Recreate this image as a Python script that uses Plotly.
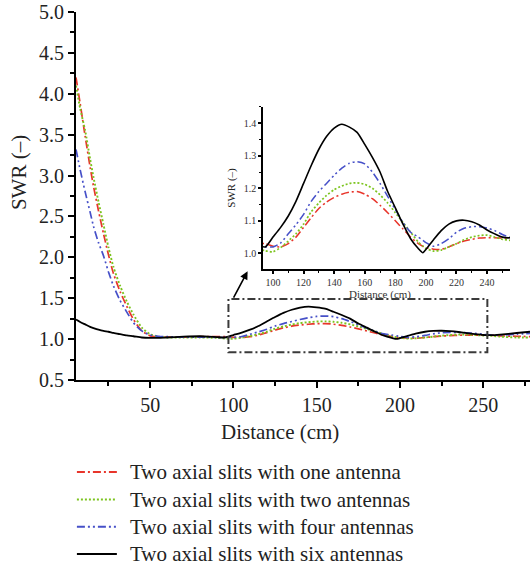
import plotly.graph_objects as go

# ---- data ----
distance = [5.5, 8, 11, 14, 16, 19, 22, 25, 28, 32, 36, 40, 45, 50, 55, 60, 70, 80, 90,
            95, 100, 105, 110, 115, 120, 125, 130, 135, 140, 145, 150, 155, 160, 165, 170,
            175, 180, 185, 190, 195, 198, 200, 205, 210, 215, 220, 225, 230, 235, 240, 245,
            250, 255, 260, 270, 278]

swr_one = [4.2, 3.88, 3.48, 3.1, 2.87, 2.57, 2.29, 2.03, 1.8, 1.58, 1.4, 1.24, 1.1, 1.04,
           1.025, 1.025, 1.025, 1.03, 1.03,
           1.03, 1.022, 1.02, 1.03, 1.05, 1.08, 1.11, 1.138, 1.158, 1.172, 1.182, 1.188,
           1.19, 1.182, 1.168, 1.148, 1.125, 1.1, 1.075, 1.05, 1.03, 1.022, 1.018, 1.013,
           1.012, 1.02, 1.03, 1.038, 1.043, 1.047, 1.048, 1.048, 1.047, 1.047, 1.04, 1.035, 1.03]

swr_two = [4.1, 3.82, 3.55, 3.2, 2.98, 2.68, 2.4, 2.12, 1.88, 1.65, 1.46, 1.3, 1.14, 1.06,
           1.03, 1.02, 1.02, 1.02, 1.015,
           1.008, 1.005, 1.018, 1.038, 1.06, 1.09, 1.128, 1.155, 1.178, 1.196, 1.207, 1.215,
           1.217, 1.212, 1.2, 1.18, 1.155, 1.125, 1.095, 1.065, 1.035, 1.022, 1.015, 1.007,
           1.01, 1.02, 1.03, 1.042, 1.05, 1.055, 1.056, 1.05, 1.043, 1.04, 1.03, 1.02, 1.02]

swr_four = [3.32, 3.07, 2.8, 2.55, 2.38, 2.18, 2.02, 1.82, 1.65, 1.47, 1.33, 1.2, 1.1, 1.05,
            1.035, 1.03, 1.025, 1.025, 1.02,
            1.02, 1.02, 1.032, 1.06, 1.088, 1.12, 1.16, 1.19, 1.215, 1.24, 1.262, 1.277,
            1.282, 1.275, 1.25, 1.215, 1.175, 1.135, 1.095, 1.065, 1.05, 1.04, 1.033, 1.022,
            1.03, 1.045, 1.065, 1.077, 1.082, 1.082, 1.078, 1.07, 1.058, 1.05, 1.05, 1.06, 1.07]

swr_six = [1.24, 1.21, 1.18, 1.15, 1.135, 1.115, 1.10, 1.09, 1.075, 1.06, 1.045, 1.035, 1.02,
           1.015, 1.015, 1.02, 1.03, 1.035, 1.025,
           1.02, 1.05, 1.08, 1.115, 1.16, 1.215, 1.27, 1.32, 1.359, 1.385, 1.397, 1.388,
           1.372, 1.335, 1.295, 1.25, 1.19, 1.14, 1.09, 1.045, 1.015, 1.002, 1.012, 1.042,
           1.07, 1.09, 1.1, 1.102, 1.097, 1.087, 1.072, 1.06, 1.05, 1.048, 1.055, 1.075, 1.09]

series_names = ["Two axial slits with one antenna", "Two axial slits with two antennas",
                "Two axial slits with four antennas", "Two axial slits with six antennas"]
series_values = [swr_one, swr_two, swr_four, swr_six]
colors = ["#e8352b", "#7cc41e", "#4650c8", "#000000"]
dashes = ["8px,3px,2px,3px", "2px,2px", "8px,3px,2px,3px,2px,3px", "solid"]
widths = [1.7, 1.9, 1.7, 1.8]

FONT = "Liberation Serif, Times New Roman, serif"

fig = go.Figure()
for i, (name, vals) in enumerate(zip(series_names, series_values)):
    fig.add_trace(go.Scatter(x=distance, y=vals, name=name, mode="lines", showlegend=False,
                             line=dict(color=colors[i], dash=dashes[i], width=widths[i],
                                       shape="spline", smoothing=0.6),
                             xaxis="x", yaxis="y"))
for i, (name, vals) in enumerate(zip(series_names, series_values)):
    fig.add_trace(go.Scatter(x=distance, y=vals, name=name, mode="lines", showlegend=False,
                             line=dict(color=colors[i], dash=dashes[i], width=widths[i] * 0.9,
                                       shape="spline", smoothing=0.6),
                             xaxis="x2", yaxis="y2"))

# ---- zoom box, arrow, titles and manual legend ----
shapes = [dict(type="rect", xref="x", yref="y", x0=97, x1=252.4, y0=0.84, y1=1.49,
               line=dict(color="#3a3a3a", width=2, dash="8px,3px,2px,3px"))]
annotations = [
    dict(xref="x", yref="y", axref="x", ayref="y", x=108.5, y=1.83,
         ax=99.6, ay=1.49, text="", showarrow=True, arrowhead=2,
         arrowsize=1, arrowwidth=1.6, arrowcolor="black"),
    dict(xref="paper", yref="paper", x=0.449, y=-0.141, xanchor="center", yanchor="middle",
         text="Distance (cm)", showarrow=False, font=dict(family=FONT, size=21, color="#222")),
    dict(xref="paper", yref="paper", x=-0.1256, y=0.565, xanchor="center", yanchor="middle",
         text="SWR (–)", textangle=-90, showarrow=False,
         font=dict(family=FONT, size=21, color="#222")),
    dict(xref="paper", yref="paper", x=0.6696, y=0.2315, xanchor="center", yanchor="middle",
         text="Distance (cm)", showarrow=False, font=dict(family=FONT, size=11, color="#333")),
]
legend_rows_y = [-0.250, -0.325, -0.399, -0.473]
for i, name in enumerate(series_names):
    shapes.append(dict(type="line", xref="paper", yref="paper", x0=0.002, x1=0.090,
                       y0=legend_rows_y[i], y1=legend_rows_y[i],
                       line=dict(color=colors[i], dash=dashes[i], width=2)))
    annotations.append(dict(xref="paper", yref="paper", x=0.1145, y=legend_rows_y[i],
                            xanchor="left", yanchor="middle", text=name, showarrow=False,
                            font=dict(family=FONT, size=21, color="#222")))

main_axis = dict(showline=True, linecolor="black", linewidth=2, ticks="outside",
                 ticklen=6, tickwidth=2, tickcolor="black", showgrid=False, zeroline=False,
                 mirror=False, automargin=False,
                 tickfont=dict(family=FONT, size=20, color="#222"))
inset_axis = dict(showline=True, linecolor="black", linewidth=1.5, ticks="outside",
                  ticklen=3, tickwidth=1.5, tickcolor="black", showgrid=False,
                  zeroline=False, automargin=False,
                  tickfont=dict(family=FONT, size=10, color="#333"))
fig.update_layout(
    width=530, height=569,
    margin=dict(l=76, r=0, t=12, b=189),
    paper_bgcolor="white", plot_bgcolor="rgba(0,0,0,0)",
    font=dict(family=FONT, color="#222"),
    showlegend=False,
    xaxis=dict(main_axis, range=[5.5, 278], tickvals=[50, 100, 150, 200, 250],
               minor=dict(tickvals=[25, 75, 125, 175, 225, 275], ticks="outside", ticklen=4,
                          tickwidth=2, tickcolor="black"),
               domain=[0, 1]),
    yaxis=dict(main_axis, range=[0.5, 5.0], dtick=0.5, tickformat=".1f",
               minor=dict(dtick=0.25, ticks="outside", ticklen=4, tickwidth=2, tickcolor="black")),
    xaxis2=dict(inset_axis, anchor="y2", domain=[0.412, 0.956], range=[93.5, 255],
                tickvals=[100, 120, 140, 160, 180, 200, 220, 240],
                minor=dict(dtick=10, ticks="outside", ticklen=2, tickwidth=1,
                           tickcolor="black")),
    yaxis2=dict(inset_axis, anchor="x2", domain=[0.3016, 0.742], range=[0.952, 1.45],
                dtick=0.1, tickformat=".1f",
                minor=dict(dtick=0.05, ticks="outside", ticklen=2, tickwidth=1,
                           tickcolor="black"),
                title=dict(text="SWR (–)", font=dict(family=FONT, size=11), standoff=6)),
    shapes=shapes,
    annotations=annotations,
)

fig.write_html("out.html", post_script="document.body.style.margin='0px';",
               config={"displayModeBar": False})
